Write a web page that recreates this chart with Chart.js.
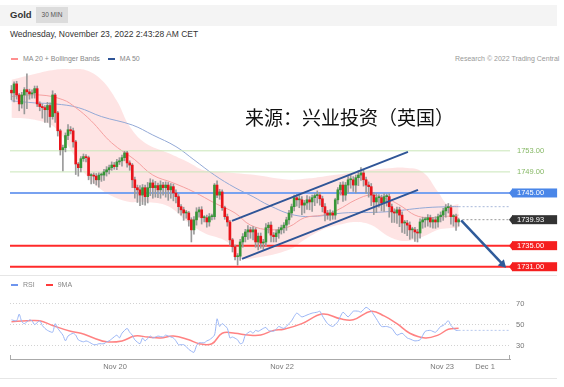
<!DOCTYPE html>
<html>
<head>
<meta charset="utf-8">
<script src="https://cdn.jsdelivr.net/npm/chart.js@4.4.1/dist/chart.umd.min.js"></script>
<style>
  body { margin: 0; width: 564px; height: 387px; position: relative; overflow: hidden; background: #fff;
         font-family: "Liberation Sans", Arial, sans-serif; }
  .abs { position: absolute; white-space: nowrap; }
  #topbar { left: 0; top: 5px; width: 557px; height: 21px; background: #f4f4f4; }
  #gold { left: 10px; top: 9px; font-size: 9.5px; font-weight: bold; color: #333; }
  #tf { left: 36px; top: 7px; width: 32px; height: 16px; line-height: 16px; background: #dcdcdc; color: #555;
        font-size: 6.5px; text-align: center; }
  #date { left: 10px; top: 29px; font-size: 8.5px; color: #333; }
  .leg { font-size: 7px; line-height: 8px; color: #888; }
  .dash { display: inline-block; width: 7px; height: 2.5px; vertical-align: middle; margin-right: 5px; }
  #src { left: 455px; top: 55px; font-size: 7px; line-height: 8px; color: #999; }
  .sep { left: 0; width: 557px; height: 1px; background: #e6e6e6; }
  #wm { left: 245px; top: 104px; font-size: 19px; line-height: 26px; color: #111; font-family: "Noto Sans CJK SC", sans-serif; }
</style>
</head>
<body>
<div class="abs" id="topbar"></div>
<div class="abs" id="gold">Gold</div>
<div class="abs" id="tf">30 MIN</div>
<div class="abs" id="date">Wednesday, November 23, 2022 2:43:28 AM CET</div>
<div class="abs leg" style="left:11px;top:55px"><span class="dash" style="background:#ff8f8f"></span>MA 20 + Bollinger Bands<span class="dash" style="background:#2f5597;margin-left:8px"></span>MA 50</div>
<div class="abs" id="src">Research © 2022 Trading Central</div>
<canvas id="priceChart" class="abs" width="564" height="234" style="left:0;top:52px"></canvas>
<div class="abs sep" style="top:275px"></div>
<div class="abs leg" style="left:11px;top:281px"><span class="dash" style="background:#6e95ee"></span>RSI<span class="dash" style="background:#ff3b3b;margin-left:11px"></span>9MA</div>
<canvas id="rsiChart" class="abs" width="564" height="97" style="left:0;top:279px"></canvas>
<div class="abs sep" style="top:378px"></div>
<div class="abs" id="wm">来源：兴业投资（英国）</div>
<script>
// candles, 30 min
const firstOpen = 1764.5;
const closes = [
  1764.0,1765.7,1763.6,1761.9,1763.6,1764.6,1764.2,1763.8,1764.0,1764.8,
  1761.9,1761.4,1761.2,1760.8,1761.6,1759.5,1763.6,1760.2,1756.8,1753.2,
  1753.6,1755.9,1757.0,1756.8,1754.7,1750.5,1749.8,1751.5,1751.9,1751.7,
  1748.3,1748.3,1748.2,1747.5,1748.4,1748.4,1749.0,1749.4,1749.8,1750.3,
  1750.0,1750.9,1751.1,
  1751.7,1752.6,1750.7,1750.3,1747.5,1746.0,1745.6,1744.6,1746.0,1744.3,
  1746.0,1746.9,1746.0,1746.4,1745.6,1746.5,1746.0,1746.5,1745.6,1746.2,
  1745.0,1744.3,1742.4,1741.8,1741.2,1741.2,1739.9,1738.0,1739.9,1741.4,
  1741.8,1740.3,1740.3,1739.5,1740.5,1740.5,1746.5,1744.6,1745.2,1742.2,
  1740.5,
  1739.5,1736.1,1734.8,1732.9,1733.0,1735.7,1736.7,1737.6,1738.0,1737.6,
  1738.0,1735.7,1736.8,1735.5,1735.7,1738.4,1738.9,1737.0,1736.7,1737.4,
  1738.0,1738.4,1738.9,1739.9,1741.2,1742.4,1744.1,1743.7,1743.7,1742.7,
  1743.1,1743.7,1743.3,1744.1,1744.5,1744.6,1743.9,1742.4,1741.2,1740.8,
  1741.2,1740.8,1743.7,1745.6,
  1746.5,1744.6,1746.5,1747.5,1747.5,1746.5,1747.9,1748.4,1748.8,1747.5,
  1746.5,1746.2,1744.6,1743.3,1744.1,1744.1,1743.1,1744.3,1744.3,1742.4,
  1741.4,1741.2,1741.8,1740.8,1739.3,1739.3,1738.9,1738.0,1738.0,1737.6,
  1737.4,1739.5,1739.9,1739.9,1740.3,1739.5,1739.9,1739.5,1740.5,1740.8,
  1741.6,1742.2,1742.2,1740.5,1740.5,1739.5,1739.93
];
const wickUp = [
  .9,.4,.5,.3,.5,.4,3.0,.5,.6,.5, .5,.4,.5,.4,.6,.5,.8,.3,.3,.3, .5,.5,1.0,.6,.5,.3,.3,.4,.5,.4,
  .3,.4,.5,.5,.4,.4,.5,.6,.5,.6, .5,.5,.6,
  .5,.3,.3,.4,.3,.5,.5,.8,.6,.5, 1.0,.8,.6,.8,.5,.8,.5,.6,.5,.6, .5,.6,.4,.4,.5,.5,.3,.4,.6,.8,
  .5,.6,.4,.5,.6,.5,.3,.8,.5,.4, .3,
  .5,.3,.3,.3,.5,.5,.6,.5,.8,.5, .6,.4,.6,.6,.5,.8,.5,.6,.5,.6, .5,.5,.5,.5,.5,.5,.5,.6,.8,.6,
  .5,.8,.6,.5,.4,.8,.5,.5,.6,.5, .6,.4,.3,.4,
  .5,.6,.5,.6,.8,.6,.5,.8,1.0,.5, .5,.6,.6,.5,.8,.6,.5,.6,.5,.6, .5,.6,.5,.5,.6,.5,.5,.6,.5,.5,
  .5,.6,.5,.5,.6,.5,.5,.6,.5,.6, .5,.6,.8,.5,.4,.5,.3
];
const wickDn = [
  1.3,1.7,.8,1.3,.8,3.6,3.2,1.0,.8,1.0, .5,.8,2.0,2.4,2.4,2.0,.5,1.8,1.0,1.0, 4.0,.8,.8,.6,1.0,2.0,1.6,.8,.5,.8,
  .8,1.6,1.4,1.0,1.4,1.2,1.0,.8,.8,.5, .5,.6,.5,
  1.0,.6,.8,1.0,1.5,2.0,2.4,2.0,1.8,1.6, 1.2,1.5,2.0,1.8,1.5,1.6,1.4,1.8,2.0,1.6, 1.5,1.2,1.2,1.0,1.4,1.0,1.2,2.3,.8,1.0,
  1.0,1.2,.8,1.0,.8,.6,.5,.5,.8,.5, .5,
  .8,1.0,1.0,.6,1.6,.8,1.0,1.0,1.4,1.2, 1.5,1.0,1.5,1.0,1.2,.8,1.0,1.3,1.0,1.0, 1.0,.8,1.0,1.0,.8,.8,.8,1.2,1.5,1.8,
  1.5,1.2,1.5,1.8,1.5,1.4,1.2,1.0,1.5,.8, 1.0,.8,.8,.8,
  1.0,1.2,1.0,1.5,1.6,1.2,1.5,1.5,1.0,1.2, 1.6,2.0,2.0,2.4,2.0,1.8,1.5,1.6,1.8,2.0, 2.0,1.8,2.0,2.2,1.8,2.0,2.0,1.8,1.6,1.8,
  1.7,1.0,1.2,1.4,1.2,1.0,1.2,1.2,1.0,1.0, 1.0,1.2,1.0,1.4,1.8,1.6,.8
];

// indicators (x = candle index)
const bandIdx = [0,9,17,23,29,35,41,46,52,61,69,75,84,89,95,108,114,121,127,134,140,147,153,160,166,170,174];
const bbUpper = [1766.5,1767.6,1768.4,1768.5,1768.3,1766.5,1762.5,1757.6,1754.5,1752.6,1750.8,1749.3,1748.9,1748.7,
                 1748.4,1747.5,1747.7,1748.1,1748.5,1749.0,1749.4,1749.7,1749.8,1749.0,1745.2,1742.7,1742.9];
const bbLower = [1759.3,1758.9,1757.4,1753.2,1748.4,1745.6,1744.0,1743.3,1743.3,1742.5,1739.3,1737.4,1735.7,1732.7,
                 1732.7,1734.2,1736.1,1738.0,1738.9,1739.5,1738.9,1736.7,1735.9,1736.7,1738.0,1738.3,1738.4];
const ma20Idx = [0,11,20,25,31,39,48,55,63,71,79,87,93,101,108,114,121,127,134,140,147,152,157,162,168,174];
const ma20Val = [1763.3,1763.6,1762.7,1761.2,1758.7,1754.5,1751.3,1748.4,1746.9,1745.2,1743.1,1741.2,1738.9,
                 1738.0,1738.6,1740.3,1740.8,1741.8,1743.7,1744.6,1743.7,1742.4,1740.8,1740.3,1740.5,1740.8];
const ma50Idx = [0,9,17,26,35,47,55,64,71,79,87,94,100,110,119,129,145,161,171,174];
const ma50Val = [1762.5,1762.1,1761.9,1761.2,1759.5,1757.9,1756.0,1753.8,1751.3,1748.4,1746.0,1744.3,1742.7,
                 1740.8,1740.6,1741.2,1741.4,1742.2,1742.4,1742.4];

const rsiIdx = [0,2,3,4,5,7,8,9,11,12,13,14,16,17,18,20,21,22,24,25,26,28,29,30,32,33,34,36,37,38,
  39,41,42,43,45,46,47,48,50,51,52,54,55,56,57,59,60,61,63,64,65,67,68,69,71,72,73,75,76,77,
  79,80,81,82,84,85,86,88,89,90,91,93,94,95,96,98,99,100,102,103,104,106,108,109,111,113,115,117,119,120,
  121,123,125,127,129,131,133,135,136,138,140,142,144,146,148,150,152,154,155,157,159,161,163,165,167,168,170,171,173,174];
const rsiVal = [54.5,53.6,60.0,52.7,50.9,54.5,53.6,50.0,53.6,49.1,46.4,44.5,42.7,50.9,46.4,40.0,34.5,39.1,41.8,40.0,
  35.5,33.6,34.5,33.6,30.9,30.9,31.8,31.8,33.6,34.5,36.4,40.0,37.3,41.8,46.4,42.7,40.0,35.5,31.8,37.3,
  34.5,39.1,37.3,38.2,39.1,38.2,40.0,39.1,37.3,34.5,30.9,30.9,29.1,26.4,23.6,30.0,32.7,32.7,34.5,35.5,
  40.0,55.5,48.2,50.9,46.4,37.3,38.2,35.5,31.8,32.7,40.0,43.6,41.8,44.5,43.6,46.4,47.3,44.5,43.6,45.5,
  48.2,46.4,50.9,53.6,60.9,57.3,59.1,60.9,61.8,62.7,58.2,50.9,48.2,52.7,61.8,57.3,62.7,62.7,61.8,66.4,
  62.7,55.5,48.2,48.2,46.4,40.0,41.8,37.3,36.4,34.5,35.5,43.6,44.5,42.7,48.2,49.1,53.6,49.1,44.5,44.5];
const rsi9Idx = [0,6,11,16,23,27,32,37,43,48,53,58,63,69,73,78,82,87,92,97,102,106,113,121,128,133,140,145,150,155,161,166,170,174];
const rsi9Val = [52.7,53.6,53.6,49.1,43.6,41.8,37.3,33.6,34.5,39.1,38.2,37.3,39.1,35.5,31.8,31.8,41.8,41.8,40.0,40.0,
  44.5,45.5,50.9,60.0,55.5,54.5,62.7,58.2,50.9,41.8,37.3,40.0,45.5,46.4];

// analyst drawings
const levels = [1753, 1749, 1745, 1735, 1731];
const lastPrice = 1739.93;
const channelUpper = [[85.8, 1739.7], [154.3, 1752.8]];
const channelLower = [[89.7, 1732.5], [158.2, 1745.6]];
const arrowPts = [[175, 1739.8], [191.1, 1731.5]];

// tick labels
const priceTicks = [1731, 1735, 1739.93, 1745, 1749, 1753];
const rsiTicks = [30, 50, 70];
const dayTickIdx = [40.3, 105.3, 167.6, 184.3];
const dayTickLabels = ['Nov 20', 'Nov 22', 'Nov 23', 'Dec 1'];

const xMin = -0.58, xMax = 194.0;
Chart.defaults.font.family = '"Liberation Sans", Arial, sans-serif';
Chart.defaults.animation = false;

const opens = closes.map((c, i) => i === 0 ? firstOpen : closes[i - 1]);
const highs = closes.map((c, i) => Math.max(c, opens[i]) + wickUp[i]);
const lows = closes.map((c, i) => Math.min(c, opens[i]) - wickDn[i]);
const pts = (xs, ys) => xs.map((x, i) => ({x: x, y: ys[i]}));
const pairs = arr => arr.map(p => ({x: p[0], y: p[1]}));
const hline = (v, from) => [{x: from, y: v}, {x: xMax, y: v}];

function levelColor(v) {
  if (v >= 1749) return '#c9e6b8';
  if (v === 1745) return '#78a2f0';
  return '#ff2a2a';
}
function boxColor(v) {
  if (v === 1745) return '#4a86e8';
  if (v === lastPrice) return '#333333';
  if (v <= 1735) return '#f51f1f';
  return null;
}

const notchPlugin = {
  id: 'notch',
  afterDraw(chart) {
    const ys = chart.scales.y, ctx = chart.ctx, left = chart.chartArea.right + 2;
    priceTicks.forEach(v => {
      const col = boxColor(v);
      if (!col) return;
      const y = ys.getPixelForValue(v);
      ctx.save();
      ctx.fillStyle = col;
      ctx.beginPath();
      ctx.moveTo(left + 0.5, y - 4.5);
      ctx.lineTo(left - 3, y);
      ctx.lineTo(left + 0.5, y + 4.5);
      ctx.closePath();
      ctx.fill();
      ctx.restore();
    });
  }
};

const levelSets = levels.map(v => ({
  type: 'line', data: hline(v, xMin), borderColor: levelColor(v),
  borderWidth: v >= 1749 ? 1 : 2, pointRadius: 0, order: 15
}));

new Chart(document.getElementById('priceChart'), {
  type: 'bar',
  data: {
    datasets: [
      {type: 'line', data: pts(bandIdx, bbUpper), borderWidth: 0, pointRadius: 0, tension: 0.4, fill: false, order: 20},
      {type: 'line', data: pts(bandIdx, bbLower), borderWidth: 0, pointRadius: 0, tension: 0.4, fill: '-1',
       backgroundColor: 'rgba(252,190,190,0.42)', order: 19},
      {type: 'line', data: pts(ma50Idx, ma50Val), borderColor: '#93a9d6', borderWidth: 1, pointRadius: 0, tension: 0.4, order: 18},
      {type: 'line', data: hline(1742.4, 174), borderColor: '#a9b9da', borderWidth: 1, borderDash: [2, 2], pointRadius: 0, order: 17},
      {type: 'line', data: pts(ma20Idx, ma20Val), borderColor: '#f5a0a0', borderWidth: 1, pointRadius: 0, tension: 0.4, order: 16},
      ...levelSets,
      {type: 'line', data: hline(lastPrice, 175.5), borderColor: '#9a9a9a', borderWidth: 1, borderDash: [2, 2], pointRadius: 0, order: 14},
      {type: 'bar', data: closes.map((c, i) => ({x: i, y: [lows[i], highs[i]]})),
       backgroundColor: '#9a9a9a', barThickness: 1, grouped: false, order: 6},
      {type: 'bar', data: closes.map((c, i) => ({x: i, y: [opens[i], c]})),
       backgroundColor: closes.map((c, i) => c >= opens[i] ? '#379637' : '#e8141a'),
       barThickness: 2, minBarLength: 1, grouped: false, order: 5},
      {type: 'line', data: pairs(channelUpper), borderColor: '#2f5597', borderWidth: 2, pointRadius: 0, order: 3},
      {type: 'line', data: pairs(channelLower), borderColor: '#2f5597', borderWidth: 2, pointRadius: 0, order: 3},
      {type: 'line', data: pairs(arrowPts), borderColor: '#2f5b9a', borderWidth: 2.5, pointStyle: 'triangle',
       pointRadius: [0, 5], pointRotation: [0, 135], pointBackgroundColor: '#2f5b9a', pointBorderWidth: 0, order: 2}
    ]
  },
  options: {
    responsive: false,
    layout: {padding: {left: 10, right: 0, top: 14, bottom: 14}},
    plugins: {legend: {display: false}, tooltip: {enabled: false}},
    scales: {
      x: {type: 'linear', min: xMin, max: xMax, offset: false, display: false},
      y: {
        position: 'right', min: 1730.0, max: 1769.1,
        afterFit: s => { s.width = 54; },
        afterBuildTicks: s => { s.ticks = priceTicks.map(v => ({value: v})); },
        grid: {display: false, drawTicks: false},
        border: {display: false},
        ticks: {
          padding: 7,
          font: {size: 7.5},
          callback: v => v.toFixed(2),
          color: ctx => boxColor(ctx.tick.value) ? '#ffffff' : '#86b865',
          showLabelBackdrop: true,
          backdropColor: ctx => boxColor(ctx.tick.value) || 'rgba(0,0,0,0)',
          backdropPadding: {left: 5, right: 13, top: 0, bottom: 0}
        }
      }
    }
  },
  plugins: [notchPlugin]
});

const capsPlugin = {
  id: 'caps',
  afterDraw(chart) {
    const {left, right, bottom} = chart.chartArea, ctx = chart.ctx;
    ctx.save();
    ctx.strokeStyle = '#aaaaaa';
    ctx.lineWidth = 1;
    ctx.beginPath();
    ctx.moveTo(Math.round(left) + 0.5, bottom);
    ctx.lineTo(Math.round(left) + 0.5, bottom - 4);
    ctx.moveTo(Math.round(right) - 0.5, bottom);
    ctx.lineTo(Math.round(right) - 0.5, bottom - 4);
    ctx.stroke();
    ctx.restore();
  }
};

new Chart(document.getElementById('rsiChart'), {
  type: 'line',
  data: {
    datasets: [
      {label: 'RSI', data: pts(rsiIdx, rsiVal), borderColor: '#9ab5f5', borderWidth: 1, pointRadius: 0, tension: 0.2},
      {data: [{x: 174, y: 44.5}, {x: xMax, y: 44.5}], borderColor: '#b8c9ee', borderWidth: 1, borderDash: [2, 2], pointRadius: 0},
      {label: '9MA', data: pts(rsi9Idx, rsi9Val), borderColor: '#ff8282', borderWidth: 1.5, pointRadius: 0, tension: 0.4}
    ]
  },
  options: {
    responsive: false,
    layout: {padding: {left: 10, right: 0, top: 14, bottom: 2}},
    plugins: {legend: {display: false}, tooltip: {enabled: false}},
    scales: {
      x: {
        type: 'linear', min: xMin, max: xMax, offset: false,
        afterBuildTicks: s => { s.ticks = dayTickIdx.map(v => ({value: v})); },
        grid: {display: false, drawTicks: false},
        border: {display: true, color: '#aaaaaa'},
        ticks: {callback: (v, i) => dayTickLabels[i], autoSkip: false, maxRotation: 0, padding: 3,
                font: {size: 7.5}, color: '#777'}
      },
      y: {
        position: 'right', min: 17.3, max: 80.0,
        afterFit: s => { s.width = 54; },
        afterBuildTicks: s => { s.ticks = rsiTicks.map(v => ({value: v})); },
        grid: {color: '#d2d2d2', drawTicks: false},
        border: {display: false, dash: [1, 2]},
        ticks: {padding: 6, font: {size: 7.5}, color: '#777'}
      }
    }
  },
  plugins: [capsPlugin]
});
</script>
</body>
</html>
